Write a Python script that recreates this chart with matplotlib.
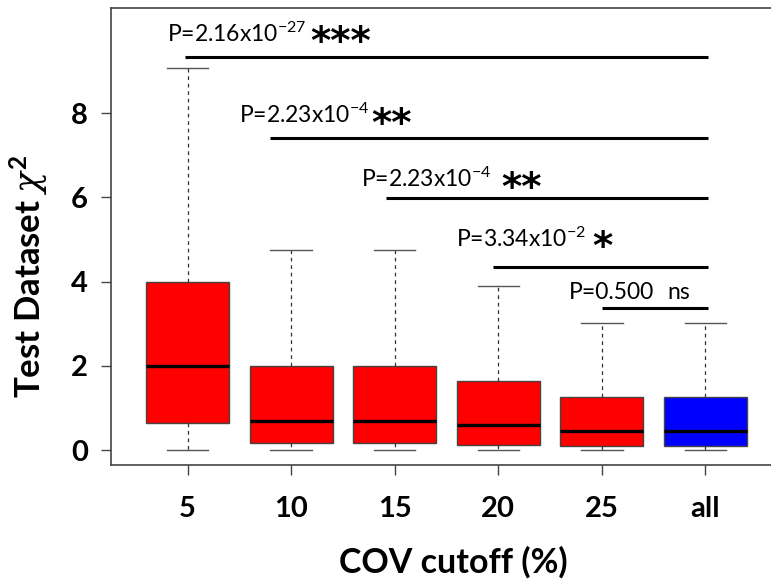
import matplotlib
matplotlib.use("Agg")
import matplotlib.pyplot as plt

plt.rcParams['font.family'] = ['Lato', 'DejaVu Sans']
plt.rcParams['mathtext.fontset'] = 'custom'
plt.rcParams['mathtext.rm'] = 'Lato'
plt.rcParams['mathtext.it'] = 'DejaVu Serif:italic'
plt.rcParams['mathtext.bf'] = 'Lato:bold'

# ---- data ----
categories = ["5", "10", "15", "20", "25", "all"]
whisker_low = [0.0, 0.0, 0.0, 0.0, 0.0, 0.0]
q1 = [0.63, 0.16, 0.16, 0.11, 0.10, 0.10]
medians = [1.99, 0.69, 0.69, 0.59, 0.46, 0.46]
q3 = [4.0, 2.0, 2.0, 1.65, 1.27, 1.27]
whisker_high = [9.08, 4.76, 4.76, 3.90, 3.02, 3.02]
box_colors = ["#FF0000", "#FF0000", "#FF0000", "#FF0000", "#FF0000", "#0000FF"]

# significance brackets: start/end category positions and height
sig_start = [0.97, 1.80, 2.92, 3.95, 5.00]
sig_end = [6.03, 6.03, 6.03, 6.03, 6.03]
sig_y = [9.33, 7.40, 5.99, 4.35, 3.38]
p_labels = [r"P=2.16x10$^{\mathregular{-27}}$", r"P=2.23x10$^{\mathregular{-4}}$",
            r"P=2.23x10$^{\mathregular{-4}}$", r"P=3.34x10$^{\mathregular{-2}}$", "P=0.500"]
sig_marks = ["***", "**", "**", "*", "ns"]

yticks = [0, 2, 4, 6, 8]

# ---- figure ----
fig = plt.figure(figsize=(7.71, 5.82), dpi=100)
ax = fig.add_axes([111 / 771, (582 - 465) / 582, 671 / 771, 457 / 582])

positions = list(range(1, len(categories) + 1))
stats = []
for i in range(len(categories)):
    stats.append(dict(med=medians[i], q1=q1[i], q3=q3[i],
                      whislo=whisker_low[i], whishi=whisker_high[i], fliers=[]))

bp = ax.bxp(stats, positions=positions, widths=0.8, patch_artist=True,
            showfliers=False,
            boxprops=dict(edgecolor="#444444", linewidth=1.0),
            medianprops=dict(color="black", linewidth=2.4, solid_capstyle="butt"),
            whiskerprops=dict(color="#333333", linewidth=0.9, linestyle=(0, (3, 3))),
            capprops=dict(color="#555555", linewidth=1.0),
            capwidths=0.4)
for patch, c in zip(bp['boxes'], box_colors):
    patch.set_facecolor(c)

# significance lines and labels
text_left = [0.80, 1.50, 2.67, 3.59, 4.68]
text_base = [9.70, 7.76, 6.25, 4.83, 3.58]
mark_x = [2.48, 2.97, 4.22, 5.01, 5.74]
for i in range(len(sig_y)):
    ax.plot([sig_start[i], sig_end[i]], [sig_y[i], sig_y[i]], color="black",
            linewidth=2.2, solid_capstyle="butt")
    ax.text(text_left[i], text_base[i], p_labels[i], ha="left", va="baseline",
            fontsize=16.5, color="black")
    if sig_marks[i] == "ns":
        ax.text(mark_x[i], text_base[i], sig_marks[i], ha="center", va="baseline",
                fontsize=16.5, color="black")
    else:
        ax.text(mark_x[i], text_base[i] - 0.30, sig_marks[i], ha="center", va="baseline",
                fontsize=28, fontweight="bold", color="black",
                family="DejaVu Sans")

ax.set_xlim(0.26, 6.74)
ax.set_ylim(-0.356, 10.5)
ax.set_xticks(positions)
ax.set_xticklabels(categories, fontsize=21, fontweight="bold")
ax.set_yticks(yticks)
ax.set_yticklabels([str(t) for t in yticks], fontsize=21, fontweight="bold")
ax.tick_params(axis="both", direction="out", length=7.5, width=1.0, color="#444444")
ax.tick_params(axis="x", pad=15)
ax.tick_params(axis="y", pad=9)

for s in ["left", "top", "bottom", "right"]:
    ax.spines[s].set_color("#444444")
    ax.spines[s].set_linewidth(1.2)

ax.set_xlabel("COV cutoff (%)", fontsize=24.5, fontweight="bold")
ax.xaxis.set_label_coords((453 - 111) / 671, -(546 - 465) / 457)
ax.set_ylabel(r"Test Dataset $\chi^{\mathregular{2}}$", fontsize=25, fontweight="bold")
ax.yaxis.set_label_coords(-(111 - 50) / 671, (465 - 276) / 457)

fig.savefig("out.png", dpi=100)
